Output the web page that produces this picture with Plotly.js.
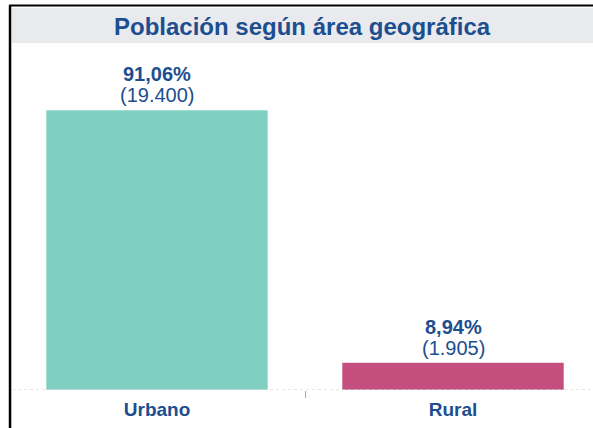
<!DOCTYPE html>
<html>
<head>
<meta charset="utf-8">
<script src="https://cdn.plot.ly/plotly-3.0.1.min.js"></script>
<style>html,body{margin:0;padding:0;background:#fff;}#chart{width:593px;height:428px;}</style>
</head>
<body>
<div id="chart"></div>
<script>
const categories = ["Urbano", "Rural"];
const population = [19400, 1905];
const percentages = [91.06, 8.94];
const barColors = ["#7fd0c0", "#c44f7e"];
const chartTitle = "Población según área geográfica";

const BLUE = "#1d4e8f";
const FONT = "Arial, 'Liberation Sans', sans-serif";

function fmtPct(p) { return p.toFixed(2).replace(".", ",") + "%"; }
function fmtNum(n) { return String(n).replace(/\B(?=(\d{3})+(?!\d))/g, "."); }

const trace = {
  type: "bar",
  x: categories,
  y: population,
  width: 0.75,
  marker: { color: barColors, line: { color: "rgba(255,255,255,0.6)", width: 1 } },
  hoverinfo: "none"
};

const annotations = [];
categories.forEach((c, i) => {
  annotations.push({
    x: c, y: population[i], xref: "x", yref: "y",
    yanchor: "middle", xanchor: "center", showarrow: false, yshift: 36,
    text: "<b>" + fmtPct(percentages[i]) + "</b>",
    font: { family: FONT, size: 20, color: BLUE }
  });
  annotations.push({
    x: c, y: population[i], xref: "x", yref: "y",
    yanchor: "middle", xanchor: "center", showarrow: false, yshift: 15,
    text: "(" + fmtNum(population[i]) + ")",
    font: { family: FONT, size: 20, color: BLUE }
  });
});

annotations.push({
  text: "<b>" + chartTitle + "</b>",
  xref: "paper", yref: "paper", x: 0.5, y: 1.052,
  xanchor: "center", yanchor: "middle", showarrow: false,
  font: { family: FONT, size: 24, color: BLUE }
});

const layout = {
  width: 593, height: 428,
  margin: { l: 12, r: 0, t: 44, b: 38 },
  paper_bgcolor: "#ffffff", plot_bgcolor: "#ffffff",
  showlegend: false,
  xaxis: {
    range: [-0.4899, 1.473],
    tickson: "boundaries",
    ticks: "outside", ticklen: 7, tickcolor: "#aaaaaa", tickwidth: 1,
    ticklabelstandoff: 6,
    showgrid: false, showline: false, zeroline: false,
    tickfont: { family: FONT, size: 19, color: BLUE, weight: "bold" },
    fixedrange: true
  },
  yaxis: {
    range: [0, 23970], visible: false, showgrid: false, zeroline: false, fixedrange: true
  },
  annotations: annotations,
  shapes: [
    { type: "rect", xref: "paper", yref: "paper", x0: 0, x1: 1, y0: 1.0029, y1: 1.104,
      fillcolor: "#e9eaee", line: { width: 0 }, layer: "below" },
    { type: "line", xref: "paper", yref: "y", x0: 0, x1: 1, y0: 0, y1: 0,
      line: { color: "#cfcfcf", width: 1, dash: "dot" }, layer: "above" },
    { type: "line", xref: "paper", yref: "paper", x0: -0.0034, x1: -0.0034, y0: -0.2, y1: 1.1113,
      line: { color: "#000000", width: 2.5 } },
    { type: "line", xref: "paper", yref: "paper", x0: -0.005, x1: 1.01, y0: 1.1113, y1: 1.1113,
      line: { color: "#000000", width: 2 } }
  ]
};

Plotly.newPlot("chart", [trace], layout, { displayModeBar: false, staticPlot: true });
</script>
</body>
</html>
